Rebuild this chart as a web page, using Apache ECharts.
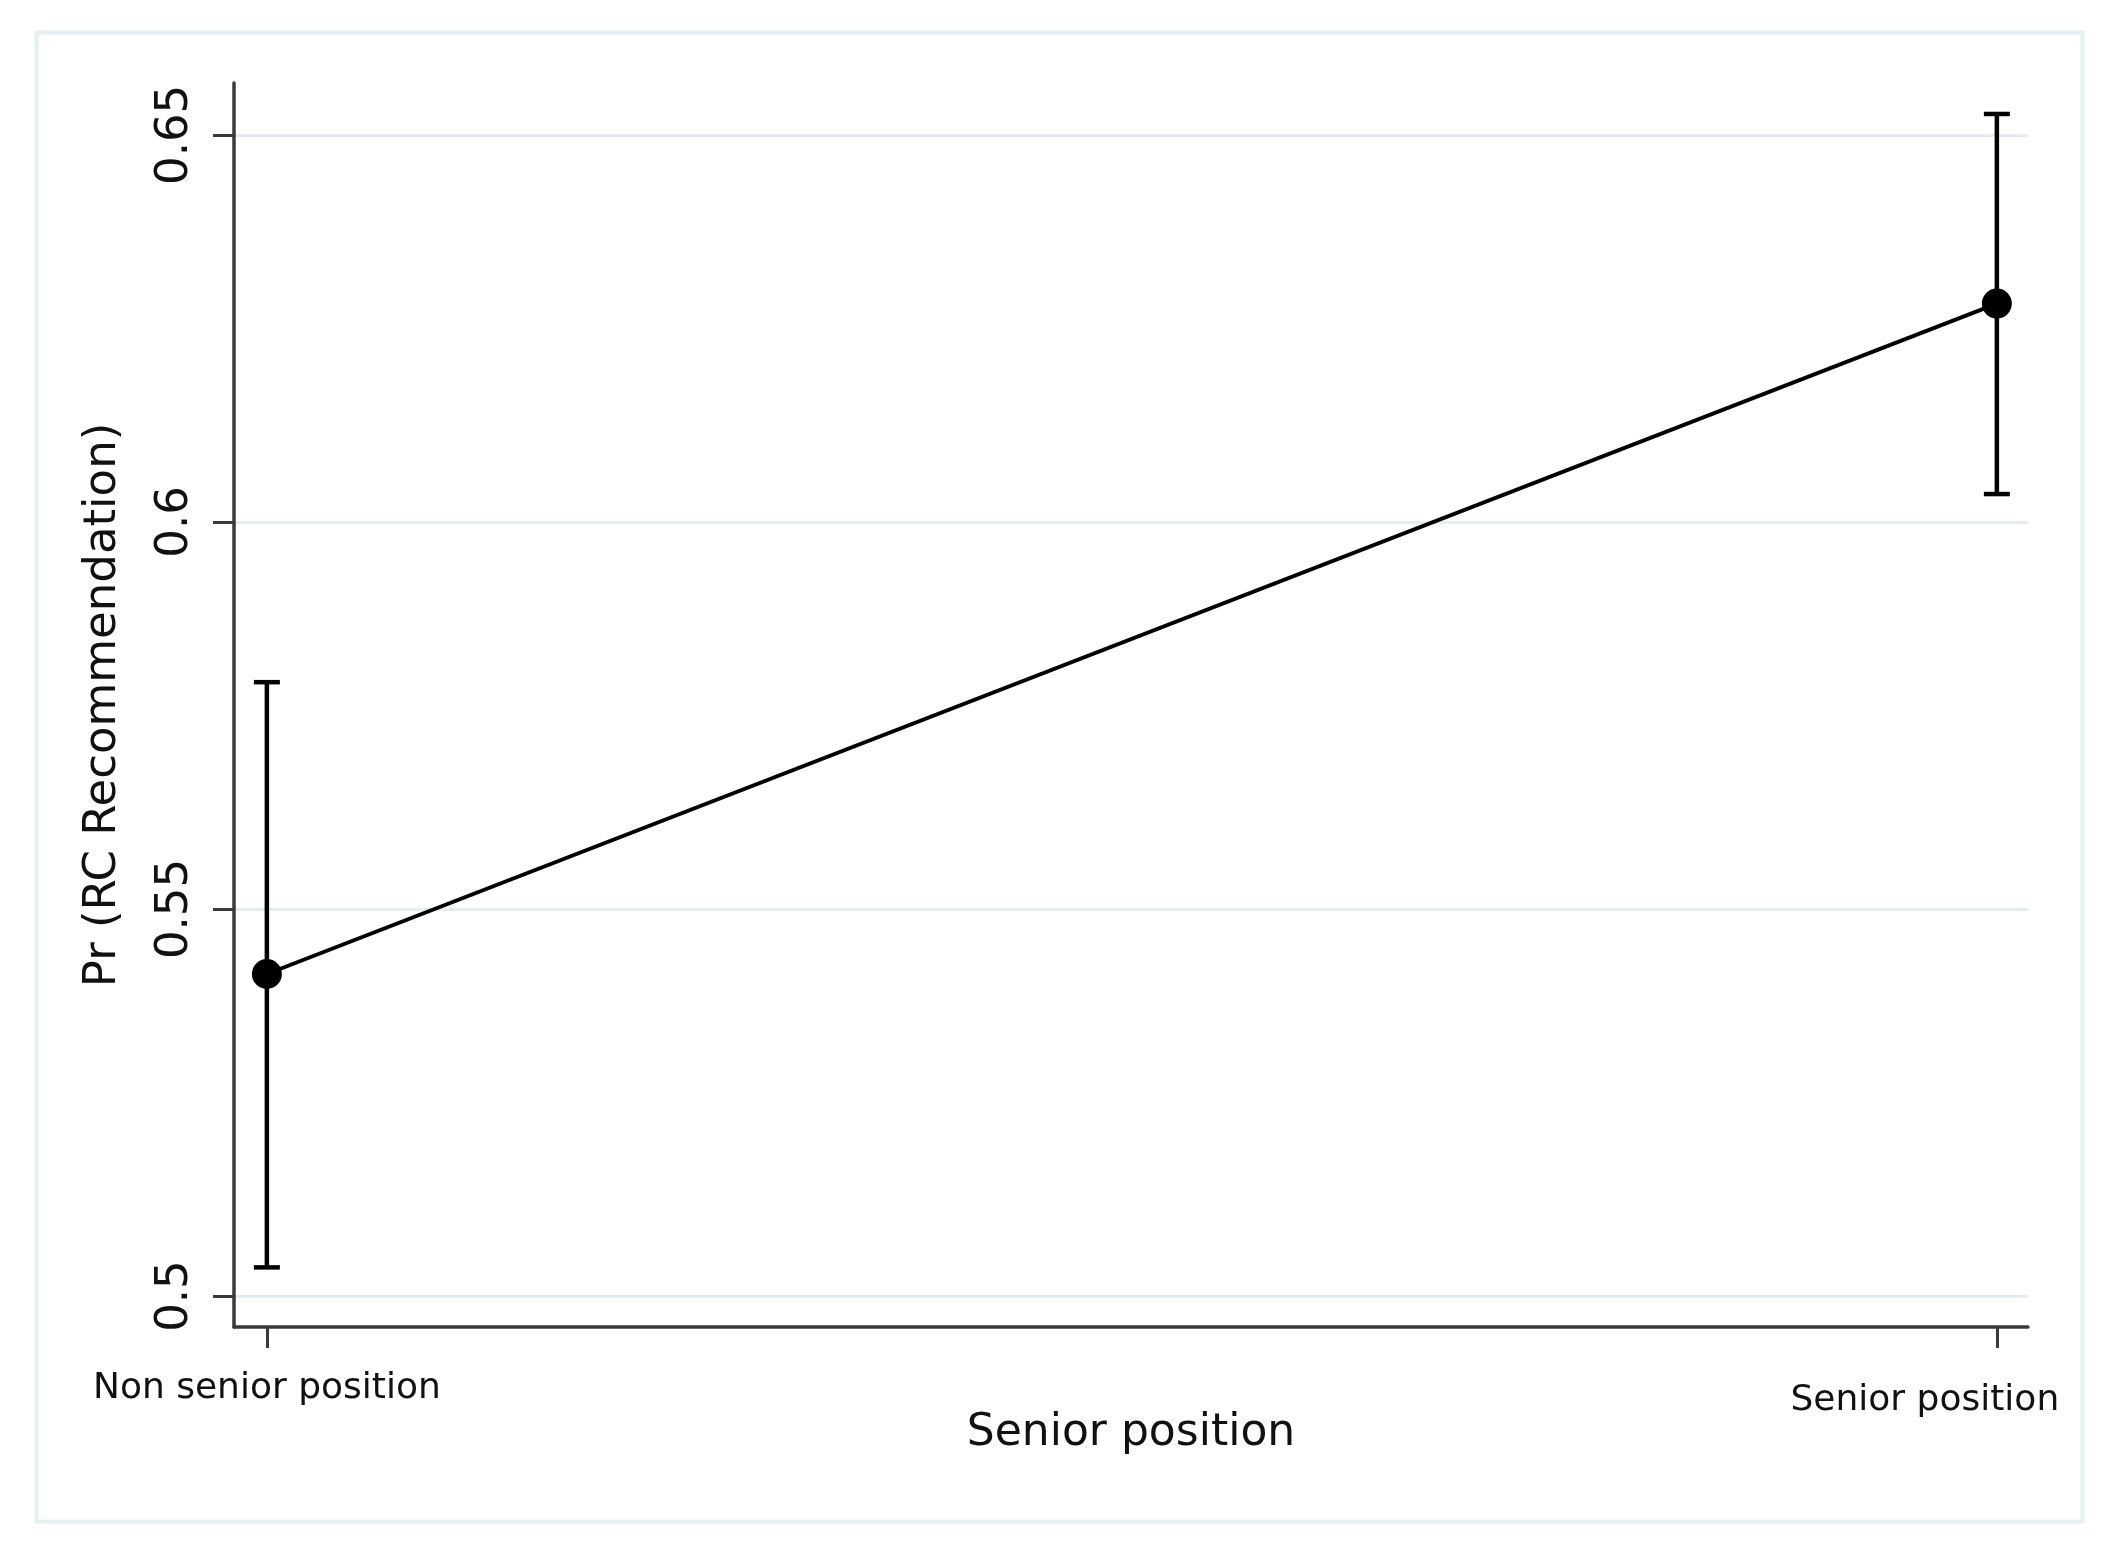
<!DOCTYPE html>
<html>
<head>
<meta charset="utf-8">
<title>Pr (RC Recommendation) by senior position</title>
<script src="https://cdn.jsdelivr.net/npm/echarts@6/dist/echarts.min.js"></script>
<style>
  html, body { margin: 0; padding: 0; background: #fff; }
  #chart { width: 2117px; height: 1560px; }
</style>
</head>
<body>
<div id="chart"></div>
<script>
// data
const categories = ['Non senior position', 'Senior position'];
const xPositions = [0, 1];
const estimates = [0.5416, 0.6282];
const lowerCI = [0.5037, 0.6036];
const upperCI = [0.5793, 0.6527];
const yTicks = [0.5, 0.55, 0.6, 0.65];

const FONT = 'DejaVu Sans';
const INK = '#111';
const AXIS = '#3a3a3a';

const chart = echarts.init(document.getElementById('chart'));

const option = {
  backgroundColor: '#fff',
  animation: false,
  graphic: [{
    // light frame round the whole figure
    type: 'rect',
    left: 34, top: 30,
    shape: { width: 2046, height: 1489 },
    style: { fill: 'none', stroke: '#e6eff1', lineWidth: 4 },
    silent: true
  }],
  grid: { left: 234, right: 89, top: 83, bottom: 233 },
  xAxis: {
    type: 'value',
    min: -0.019,
    max: 1.018,
    name: 'Senior position',
    nameLocation: 'middle',
    nameGap: 85,
    nameMoveOverlap: false,
    nameTextStyle: { fontFamily: FONT, fontSize: 44, color: INK },
    axisLine: { show: true, onZero: false, lineStyle: { color: AXIS, width: 3.5 } },
    axisTick: { show: true, customValues: xPositions, length: 21, lineStyle: { color: AXIS, width: 3 } },
    axisLabel: {
      customValues: xPositions,
      margin: 44,
      formatter: v => v === 0 ? '{n|' + categories[0] + '}' : '{s|' + categories[1] + '}',
      rich: {
        n: { fontFamily: FONT, fontSize: 36, color: INK },
        s: { fontFamily: FONT, fontSize: 36, color: INK, padding: [12, 144, 0, 0] }
      }
    },
    splitLine: { show: false }
  },
  yAxis: {
    type: 'value',
    min: 0.496,
    max: 0.6567,
    name: 'Pr (RC Recommendation)',
    nameLocation: 'middle',
    nameGap: 108,
    nameTextStyle: { fontFamily: FONT, fontSize: 45, color: INK },
    axisLine: { show: true, onZero: false, lineStyle: { color: AXIS, width: 3.5 } },
    axisTick: { show: true, customValues: yTicks, length: 21, lineStyle: { color: AXIS, width: 3 } },
    axisLabel: {
      customValues: yTicks,
      rotate: 90,
      margin: 36,
      fontFamily: FONT,
      fontSize: 45,
      color: INK,
      formatter: v => String(+v.toFixed(2))
    },
    splitLine: { show: true, lineStyle: { color: '#e4eef1', width: 3 } }
  },
  series: [
    {
      // 95% confidence intervals with caps
      type: 'custom',
      data: xPositions.map((x, i) => [x, lowerCI[i], upperCI[i]]),
      renderItem: (params, api) => {
        const lo = api.coord([api.value(0), api.value(1)]);
        const hi = api.coord([api.value(0), api.value(2)]);
        const half = 13;
        const style = { stroke: '#000', lineWidth: 4.5 };
        return {
          type: 'group',
          children: [
            { type: 'line', shape: { x1: hi[0], y1: hi[1], x2: lo[0], y2: lo[1] }, style },
            { type: 'line', shape: { x1: hi[0] - half, y1: hi[1], x2: hi[0] + half, y2: hi[1] }, style },
            { type: 'line', shape: { x1: lo[0] - half, y1: lo[1], x2: lo[0] + half, y2: lo[1] }, style }
          ]
        };
      },
      silent: true,
      z: 2
    },
    {
      type: 'line',
      data: xPositions.map((x, i) => [x, estimates[i]]),
      symbol: 'circle',
      symbolSize: 30,
      itemStyle: { color: '#000' },
      lineStyle: { color: '#000', width: 4 },
      z: 3
    }
  ]
};

chart.setOption(option);
</script>
</body>
</html>
